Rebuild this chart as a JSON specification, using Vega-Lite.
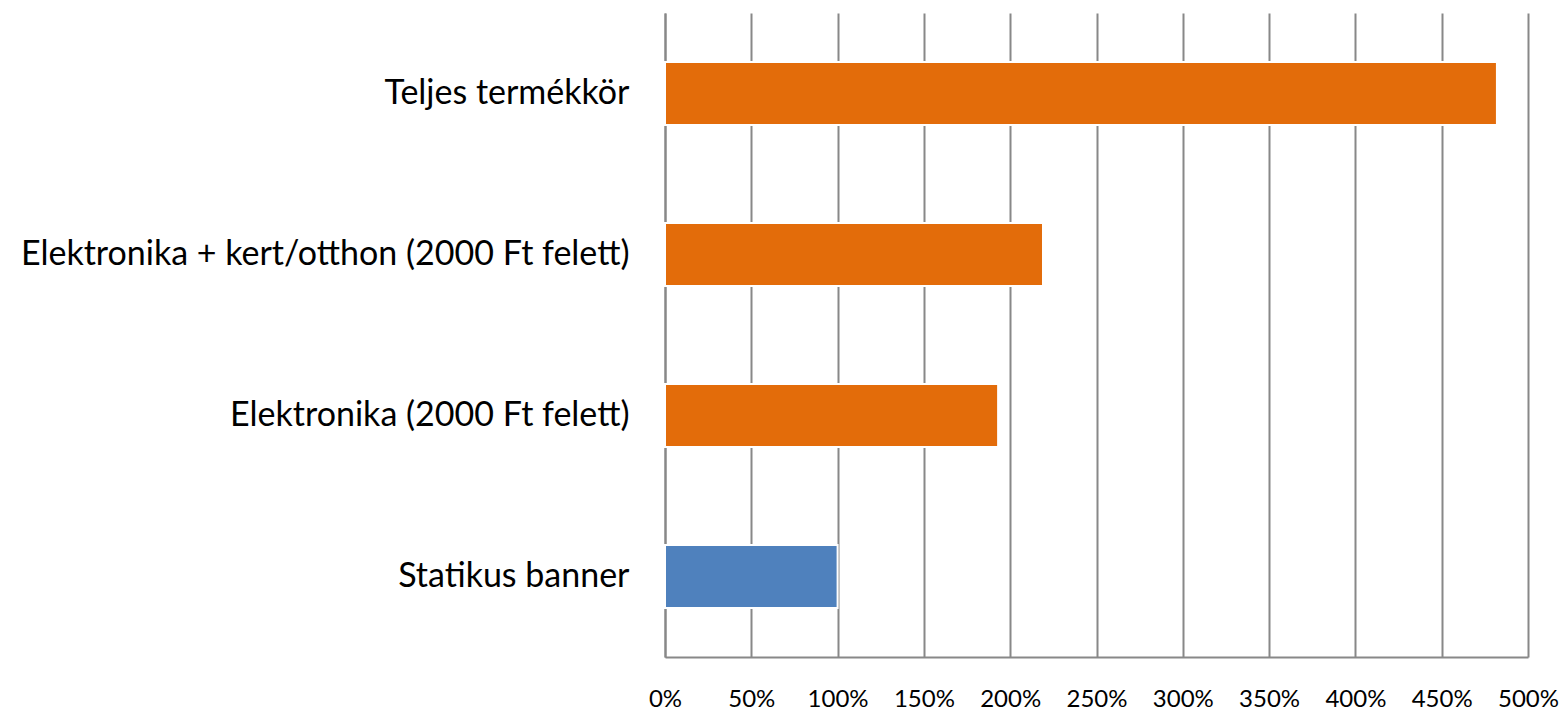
{
  "$schema": "https://vega.github.io/schema/vega-lite/v6.json",
  "autosize": "none",
  "width": 863,
  "height": 644,
  "padding": {"left": 665, "top": 13, "right": 34, "bottom": 53},
  "background": "white",
  "config": {"view": {"stroke": null}, "font": "Lato"},
  "data": {
    "values": [
      {"cat": "Teljes termékkör", "value": 4.82, "type": "new"},
      {"cat": "Elektronika + kert/otthon (2000 Ft felett)", "value": 2.19, "type": "new"},
      {"cat": "Elektronika (2000 Ft felett)", "value": 1.93, "type": "new"},
      {"cat": "Statikus banner", "value": 1.0, "type": "base"}
    ]
  },
  "mark": {"type": "bar", "stroke": "white", "strokeWidth": 2},
  "encoding": {
    "y": {
      "field": "cat", "type": "nominal", "sort": null,
      "scale": {"paddingInner": 0.61, "paddingOuter": 0.305},
      "axis": {"title": null, "domainColor": "#888888", "domainWidth": 2, "ticks": false, "labelFont": "Lato", "labelFontSize": 34, "labelColor": "black", "labelPadding": 36, "labelLimit": 700}
    },
    "x": {
      "field": "value", "type": "quantitative",
      "scale": {"domain": [0, 5], "nice": false},
      "axis": {"title": null, "format": ".0%", "values": [0, 0.5, 1, 1.5, 2, 2.5, 3, 3.5, 4, 4.5, 5], "grid": true, "gridColor": "#888888", "gridWidth": 2, "domainColor": "#888888", "domainWidth": 2, "ticks": false, "labelFont": "Lato", "labelFontSize": 24, "labelColor": "black", "labelPadding": 30, "labelFlush": false}
    },
    "color": {
      "field": "type", "type": "nominal",
      "scale": {"domain": ["new", "base"], "range": ["#E36C0A", "#4F81BD"]},
      "legend": null
    }
  }
}
